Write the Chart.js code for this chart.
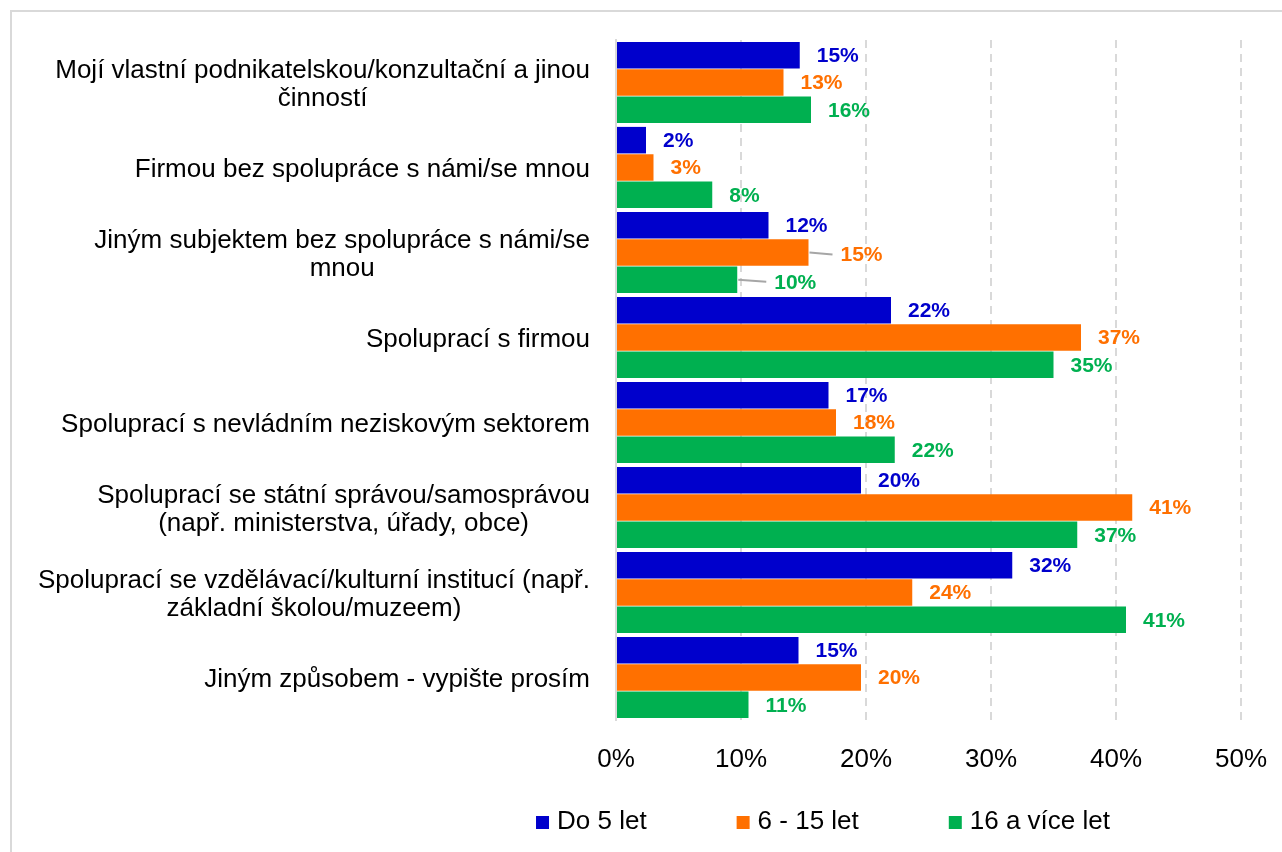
<!DOCTYPE html>
<html>
<head>
<meta charset="utf-8">
<script src="https://cdn.jsdelivr.net/npm/chart.js@4"></script>
<style>
  body { margin: 0; background: #fff; overflow: hidden; }
  #wrap { position: relative; width: 1282px; height: 852px; }
  #frame { position: absolute; left: 10px; top: 10px; width: 1400px; height: 1000px; border: 2px solid #d9d9d9; }
  canvas { position: absolute; left: 0; top: 0; }
</style>
</head>
<body>
<div id="wrap">
  <div id="frame"></div>
  <canvas id="chart" width="1282" height="852"></canvas>
</div>
<script>
// categories (line breaks as in the original)
const categories = [
    ['Mojí vlastní podnikatelskou/konzultační a jinou', 'činností'],
    ['Firmou bez spolupráce s námi/se mnou'],
    ['Jiným subjektem bez spolupráce s námi/se', 'mnou'],
    ['Spoluprací s firmou'],
    ['Spoluprací s nevládním neziskovým sektorem'],
    ['Spoluprací se státní správou/samosprávou', '(např. ministerstva, úřady, obce)'],
    ['Spoluprací se vzdělávací/kulturní institucí (např.', 'základní školou/muzeem)'],
    ['Jiným způsobem - vypište prosím']
];

const seriesNames = ['Do 5 let', '6 - 15 let', '16 a více let'];

// percent values
const upTo5 = [14.7, 2.4, 12.2, 22.0, 17.0, 19.6, 31.7, 14.6];
const from6to15 = [13.4, 3.0, 15.4, 37.2, 17.6, 41.3, 23.7, 19.6];
const over16 = [15.6, 7.7, 9.7, 35.0, 22.3, 36.9, 40.8, 10.6];

const xTicks = [0, 10, 20, 30, 40, 50];

const colors = ['#0000CC', '#FF7000', '#00B050'];
const font = 'Liberation Sans, Arial, sans-serif';

// labels that Excel pushed right, with a leader line ("dataset-index": extra px)
const labelShift = { '1-2': 15, '2-2': 20 };

const labelsPlugin = {
    id: 'barLabels',
    afterDatasetsDraw(chart) {
        const ctx = chart.ctx;
        ctx.save();
        ctx.font = 'bold 21px ' + font;
        ctx.textBaseline = 'middle';
        ctx.textAlign = 'left';
        chart.data.datasets.forEach((ds, di) => {
            chart.getDatasetMeta(di).data.forEach((bar, i) => {
                const shift = labelShift[di + '-' + i] || 0;
                const x = bar.x + 17 + shift;
                if (shift) {
                    ctx.strokeStyle = '#a6a6a6';
                    ctx.lineWidth = 2;
                    ctx.beginPath();
                    ctx.moveTo(bar.x + 1, bar.y);
                    ctx.lineTo(x - 8, bar.y + 2);
                    ctx.stroke();
                }
                ctx.fillStyle = ds.backgroundColor;
                ctx.fillText(Math.round(ds.data[i]) + '%', x, bar.y + (shift ? 3 : 1));
            });
        });
        ctx.restore();
    }
};

const categoryLabelsPlugin = {
    id: 'categoryLabels',
    afterDraw(chart) {
        const ctx = chart.ctx;
        const yScale = chart.scales.y;
        const right = chart.chartArea.left - 26;
        ctx.save();
        ctx.font = '26px ' + font;
        ctx.fillStyle = '#000';
        ctx.textBaseline = 'middle';
        ctx.textAlign = 'center';
        categories.forEach((lines, i) => {
            const yc = yScale.getPixelForTick(i) + 2;
            const w = Math.max(...lines.map(l => ctx.measureText(l).width));
            const cx = right - w / 2;
            lines.forEach((l, k) => {
                ctx.fillText(l, cx, yc + (k - (lines.length - 1) / 2) * 28);
            });
        });
        ctx.restore();
    }
};

const legendPlugin = {
    id: 'bottomLegend',
    afterDraw(chart) {
        const ctx = chart.ctx;
        ctx.save();
        ctx.font = '26px ' + font;
        ctx.textBaseline = 'middle';
        ctx.textAlign = 'left';
        const box = 13, gap = 8, spacing = 90, y = 822;
        const widths = seriesNames.map(n => ctx.measureText(n).width);
        const total = widths.reduce((a, w) => a + box + gap + w, 0) + spacing * (seriesNames.length - 1);
        let x = 823 - total / 2;
        seriesNames.forEach((n, i) => {
            ctx.fillStyle = colors[i];
            ctx.fillRect(x, y - 6, box, box);
            ctx.fillStyle = '#000';
            ctx.fillText(n, x + box + gap, y);
            x += box + gap + widths[i] + spacing;
        });
        ctx.restore();
    }
};

new Chart(document.getElementById('chart'), {
    type: 'bar',
    data: {
        labels: categories,
        datasets: [upTo5, from6to15, over16].map((d, i) => ({
            label: seriesNames[i],
            data: d,
            backgroundColor: colors[i],
            categoryPercentage: 0.965,
            barPercentage: 0.97
        }))
    },
    options: {
        indexAxis: 'y',
        responsive: false,
        animation: false,
        layout: { padding: { top: 40, right: 41, left: 0, bottom: 0 } },
        scales: {
            x: {
                min: 0,
                max: 50,
                afterBuildTicks(scale) {
                    scale.ticks = xTicks.map(v => ({ value: v }));
                },
                afterFit(scale) {
                    scale.height = 132;
                    scale.paddingLeft = 0;
                    scale.paddingRight = 0;
                },
                grid: {
                    drawTicks: false,
                    color: ctx => ctx.tick && ctx.tick.value === 0 ? 'rgba(0,0,0,0)' : '#d9d9d9',
                    lineWidth: 2
                },
                border: { display: false, dash: [8, 6] },
                ticks: {
                    padding: 24,
                    color: '#000',
                    font: { family: font, size: 26 },
                    callback: v => v + '%'
                }
            },
            y: {
                afterFit(scale) { scale.width = 616; },
                grid: { display: false, drawTicks: false },
                border: { display: true, color: '#d9d9d9', width: 2 },
                ticks: { display: false }
            }
        },
        plugins: {
            legend: { display: false },
            tooltip: { enabled: false }
        }
    },
    plugins: [labelsPlugin, categoryLabelsPlugin, legendPlugin]
});
</script>
</body>
</html>
